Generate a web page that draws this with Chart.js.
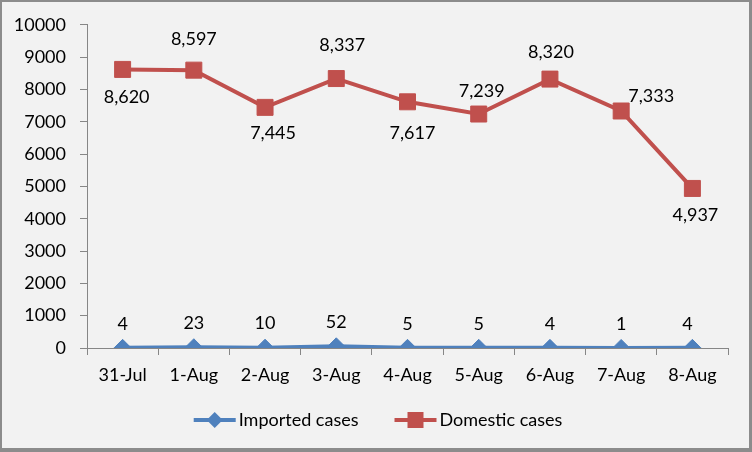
<!DOCTYPE html>
<html>
<head>
<meta charset="utf-8">
<script src="https://cdn.jsdelivr.net/npm/chart.js@4.4.1/dist/chart.umd.min.js"></script>
<style>
html,body{margin:0;padding:0;background:#f2f2f2;}
canvas{display:block;}
</style>
</head>
<body>
<canvas id="c" width="752" height="452"></canvas>
<script>
const categories = ['31-Jul','1-Aug','2-Aug','3-Aug','4-Aug','5-Aug','6-Aug','7-Aug','8-Aug'];
const importedCases = [4, 23, 10, 52, 5, 5, 4, 1, 4];
const domesticCases = [8620, 8597, 7445, 8337, 7617, 7239, 8320, 7333, 4937];
const yTicks = {min: 0, max: 10000, step: 1000};

const FONT = 'Lato, "Noto Sans", sans-serif';
const FS = 18;
const BLUE = '#4F81BD';
const RED = '#C0504D';
const AXIS = '#868686';

// label placement (style only): [dx, dy] offsets from point
const labelOffsets = {
  0: [[0,-24],[0,-24],[0,-24],[0,-24],[0,-24],[0,-24],[0,-24],[0,-24],[-5,-24]],
  1: [[4,28],[0,-31],[8,26],[6,-33],[5,31],[3,-23],[1,-27],[30,-15],[3,27]]
};

const bgPlugin = {
  id: 'bg',
  beforeDraw(chart) {
    const ctx = chart.ctx;
    ctx.save();
    ctx.fillStyle = '#8c8c8c';
    ctx.fillRect(0, 0, 752, 452);
    ctx.fillStyle = '#f2f2f2';
    ctx.fillRect(2, 2, 747, 446);
    ctx.restore();
  }
};

const labelPlugin = {
  id: 'vals',
  afterDatasetsDraw(chart) {
    const ctx = chart.ctx;
    ctx.save();
    ctx.font = FS + 'px ' + FONT;
    ctx.fillStyle = '#000';
    ctx.textAlign = 'center';
    ctx.textBaseline = 'middle';
    chart.data.datasets.forEach((ds, di) => {
      const meta = chart.getDatasetMeta(di);
      meta.data.forEach((pt, i) => {
        const off = labelOffsets[di][i];
        ctx.fillText(ds.data[i].toLocaleString('en-US'), pt.x + off[0], pt.y + off[1]);
      });
    });
    ctx.restore();
  }
};

function drawMarker(ctx, style, x, y, color) {
  ctx.fillStyle = color;
  ctx.beginPath();
  if (style === 'rectRot') {
    const r = 8;
    ctx.moveTo(x, y - r); ctx.lineTo(x + r, y); ctx.lineTo(x, y + r); ctx.lineTo(x - r, y);
  } else {
    const s = 8;
    ctx.rect(x - s, y - s, 2 * s, 2 * s);
  }
  ctx.closePath();
  ctx.fill();
}

const legendPlugin = {
  id: 'customLegend',
  afterDraw(chart) {
    const ctx = chart.ctx;
    ctx.save();
    ctx.font = FS + 'px ' + FONT;
    ctx.textBaseline = 'middle';
    ctx.textAlign = 'left';
    const items = chart.data.datasets.map(ds => ({
      text: ds.label, color: ds.borderColor, style: ds.pointStyle,
      w: 42 + 3 + ctx.measureText(ds.label).width
    }));
    const gap = 36;
    const total = items.reduce((a, it) => a + it.w, 0) + gap * (items.length - 1);
    let x = 378 - total / 2;
    const y = 420;
    items.forEach(it => {
      ctx.strokeStyle = it.color;
      ctx.lineWidth = 4;
      ctx.beginPath(); ctx.moveTo(x, y); ctx.lineTo(x + 42, y); ctx.stroke();
      drawMarker(ctx, it.style, x + 21, y, it.color);
      ctx.fillStyle = '#000';
      ctx.fillText(it.text, x + 45, y);
      x += it.w + gap;
    });
    ctx.restore();
  }
};

new Chart(document.getElementById('c'), {
  type: 'line',
  data: {
    labels: categories,
    datasets: [
      {
        label: 'Imported cases', data: importedCases,
        borderColor: BLUE, backgroundColor: BLUE, borderWidth: 4,
        pointStyle: 'rectRot', pointRadius: 8.5, pointHoverRadius: 8.5,
        pointBackgroundColor: BLUE, pointBorderColor: BLUE, pointBorderWidth: 1,
        tension: 0, fill: false
      },
      {
        label: 'Domestic cases', data: domesticCases,
        borderColor: RED, backgroundColor: RED, borderWidth: 4,
        pointStyle: 'rect', pointRadius: 11.3, pointHoverRadius: 11.3,
        pointBackgroundColor: RED, pointBorderColor: RED, pointBorderWidth: 1,
        tension: 0, fill: false
      }
    ]
  },
  options: {
    responsive: false,
    animation: false,
    events: [],
    layout: {padding: {left: 0, right: 24, top: 24, bottom: 60}},
    plugins: {legend: {display: false}, tooltip: {enabled: false}},
    scales: {
      x: {
        offset: true,
        grid: {drawOnChartArea: false, offset: true, tickLength: 7, color: AXIS},
        border: {color: AXIS},
        ticks: {color: '#000', font: {family: FONT, size: FS}, padding: 9, maxRotation: 0, autoSkip: false},
        afterFit(s) { s.height = 44; }
      },
      y: {
        min: yTicks.min, max: yTicks.max,
        grid: {drawOnChartArea: false, tickLength: 7, color: AXIS},
        border: {color: AXIS},
        ticks: {stepSize: yTicks.step, color: '#000', font: {family: FONT, size: FS}, padding: 14,
                callback: v => String(v)},
        afterFit(s) { s.width = 87; }
      }
    }
  },
  plugins: [bgPlugin, labelPlugin, legendPlugin]
});
</script>
</body>
</html>
